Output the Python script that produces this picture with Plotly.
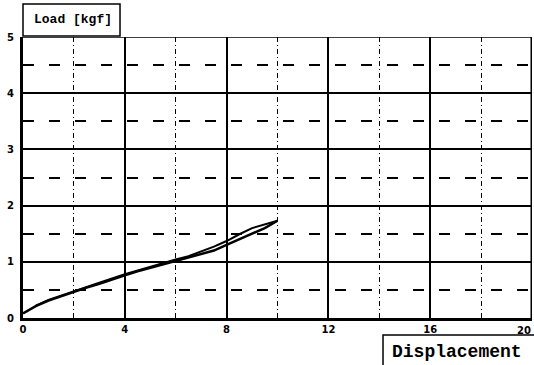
import plotly.graph_objects as go

# Data
load_x = [0, 0.25, 0.5, 1, 1.5, 2, 2.5, 3, 3.5, 4, 4.5, 5, 5.5, 6, 6.5, 7, 7.5, 8, 8.5, 9, 9.5, 10]
load_y = [0.08, 0.15, 0.21, 0.31, 0.39, 0.46, 0.54, 0.61, 0.69, 0.76, 0.83, 0.89, 0.96, 1.02, 1.07, 1.13, 1.2, 1.3, 1.4, 1.5, 1.6, 1.73]
unload_x = [10, 9.5, 9, 8.5, 8, 7.5, 7, 6.5, 6, 5, 4, 3, 2, 1, 0.5]
unload_y = [1.73, 1.67, 1.6, 1.49, 1.37, 1.27, 1.18, 1.1, 1.04, 0.91, 0.78, 0.63, 0.47, 0.32, 0.22]

x_ticks = [0, 4, 8, 12, 16, 20]
y_ticks = [0, 1, 2, 3, 4, 5]
x_title = "Displacement"
y_title = "Load [kgf]"

fig = go.Figure()
fig.add_trace(go.Scatter(x=load_x, y=load_y, mode="lines",
                         line=dict(color="black", width=2.5), showlegend=False))
fig.add_trace(go.Scatter(x=unload_x, y=unload_y, mode="lines",
                         line=dict(color="black", width=2), showlegend=False))

tickfont = dict(family="DejaVu Sans", size=10, color="black", weight="bold")

fig.update_xaxes(range=[0, 20], tickvals=x_ticks[:-1], ticktext=[str(v) for v in x_ticks[:-1]],
                 showgrid=True, gridcolor="black", gridwidth=2,
                 minor=dict(dtick=2, tick0=0, showgrid=True, gridcolor="black",
                            gridwidth=1, griddash="5px,3px,1px,3px"),
                 showline=True, linecolor="black", linewidth=3,
                 zeroline=False, ticks="", tickfont=tickfont)
fig.update_yaxes(range=[0, 5], tickvals=y_ticks, ticktext=[str(v) for v in y_ticks],
                 showgrid=True, gridcolor="black", gridwidth=2,
                 minor=dict(dtick=0.5, tick0=0, showgrid=True, gridcolor="black",
                            gridwidth=2, griddash="11px,15px"),
                 showline=True, linecolor="black", linewidth=3,
                 zeroline=False, ticks="", tickfont=tickfont, ticklabelstandoff=4)

# borders
fig.add_shape(type="line", xref="x", yref="y", x0=20, x1=20, y0=0, y1=5,
              line=dict(color="black", width=3))
fig.add_shape(type="line", xref="x", yref="y", x0=0, x1=20, y0=5, y1=5,
              line=dict(color="black", width=1.5))

# title boxes
fig.add_shape(type="rect", xref="paper", yref="paper", x0=0.0, x1=0.1906, y0=1.0036, y1=1.117,
              line=dict(color="black", width=1.5), fillcolor="white")
fig.add_annotation(text=y_title, xref="paper", yref="paper", x=0.0177, y=1.0605,
                   xanchor="left", yanchor="middle", showarrow=False,
                   font=dict(family="Liberation Mono", size=13, color="black", weight="bold"))
fig.add_shape(type="rect", xref="paper", yref="paper", x0=0.7073, x1=1.0157, y0=-0.185, y1=-0.0605,
              line=dict(color="black", width=1.5), fillcolor="white")
fig.add_annotation(text=x_title, xref="paper", yref="paper", x=0.721, y=-0.121,
                   xanchor="left", yanchor="middle", showarrow=False,
                   font=dict(family="Liberation Mono", size=18, color="black", weight="bold"))

# last x tick label, kept inside the page
fig.add_annotation(text=str(x_ticks[-1]), xref="x", yref="paper", x=x_ticks[-1], y=-0.022,
                   xanchor="right", yanchor="top", showarrow=False, font=tickfont,
                   borderpad=0)

fig.update_layout(width=534, height=365, margin=dict(l=23, r=2, t=37, b=47),
                  paper_bgcolor="white", plot_bgcolor="white")

fig.write_html("out.html")
